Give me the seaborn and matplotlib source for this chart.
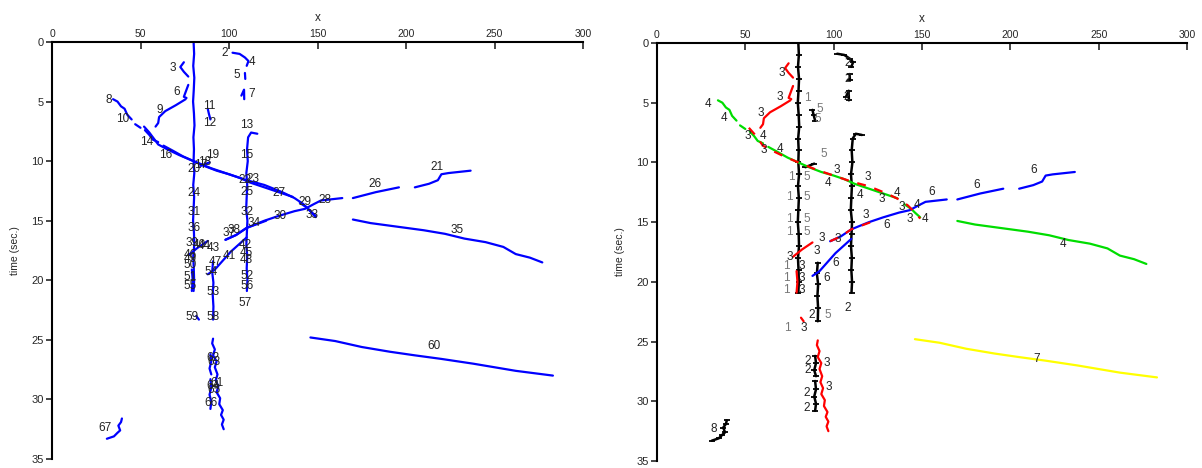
import matplotlib
matplotlib.use("Agg")
import matplotlib.pyplot as plt
import pandas as pd
import seaborn as sns

# ---------------- track data (x, time) ----------------
vert80 = [(80.0, 0.0), (80.3, 1.0), (79.8, 2.0), (80.4, 3.0), (80.1, 4.0), (79.7, 5.0),
          (80.2, 6.0), (80.5, 7.0), (79.9, 8.0), (80.2, 9.0), (80.0, 10.0), (80.4, 11.0),
          (79.8, 12.0), (80.3, 13.0), (80.0, 14.0), (79.7, 15.0), (80.2, 16.0), (80.4, 17.0),
          (79.8, 18.0), (80.1, 19.0), (80.3, 20.0), (80.0, 20.9)]
vert110 = [(116.0, 7.7), (112.5, 7.6), (110.8, 8.0), (110.2, 9.0), (110.6, 10.0), (109.8, 11.0),
           (110.3, 12.0), (110.0, 13.0), (109.7, 14.0), (110.4, 15.0), (110.1, 16.0),
           (109.8, 17.0), (110.3, 18.0), (110.0, 19.0), (110.4, 20.0), (110.1, 20.9)]
top2 = [(102.0, 0.9), (106.0, 1.0), (109.0, 1.3), (111.0, 1.6), (110.0, 2.0)]
short5 = [(109.0, 2.6), (109.2, 3.1)]
short7 = [(107.0, 4.5), (108.5, 4.0), (108.6, 4.8)]
trk3 = [(74.5, 1.7), (72.5, 2.1), (74.5, 2.5), (77.0, 2.9)]
trk6 = [(77.0, 3.6), (75.5, 4.2), (74.5, 4.6), (76.0, 4.7)]
trk9 = [(75.5, 4.8), (70.0, 5.3), (64.0, 5.8), (60.5, 6.3), (60.0, 6.8), (58.5, 7.1)]
trk11 = [(88.0, 5.6), (88.6, 6.0), (89.5, 6.5)]
dot19 = [(84.0, 10.4), (89.0, 10.1)]
diag_a = [(34.5, 4.8), (37.0, 5.0), (39.0, 5.4), (41.0, 5.6), (42.5, 6.1), (45.0, 6.5)]
diag_b = [(47.0, 6.9), (50.0, 7.2)]
diag_c = [(52.5, 7.4), (55.0, 7.8), (57.0, 8.2), (60.0, 8.4)]
diag_d = [(63.0, 8.7), (68.0, 9.1), (74.0, 9.6), (80.0, 10.0), (86.0, 10.4), (93.0, 10.8),
          (100.0, 11.1), (106.0, 11.4), (112.0, 11.8), (118.0, 12.1), (124.0, 12.4),
          (130.0, 12.7), (136.0, 13.0)]
diag_e = [(140.0, 13.5), (144.0, 13.9), (146.0, 14.2), (149.0, 14.6)]
diag_red = [(52.0, 7.1), (55.0, 7.6), (58.0, 8.2), (60.0, 8.6), (65.0, 9.0), (72.0, 9.5),
            (80.0, 10.0), (90.0, 10.6), (100.0, 11.1), (110.0, 11.6), (120.0, 12.0),
            (130.0, 12.6), (137.0, 13.1), (142.0, 13.6), (146.0, 14.2), (149.0, 14.7)]
rise_red = [(77.0, 17.9), (82.0, 17.3), (88.0, 16.7)]
rise1 = [(88.0, 19.5), (92.0, 19.1), (95.0, 18.6), (98.0, 18.1), (101.0, 17.6),
         (104.0, 17.2), (107.0, 16.8), (110.0, 16.4)]
rise2 = [(98.0, 16.6), (104.0, 16.2), (110.0, 15.6), (120.0, 15.0), (128.0, 14.6),
         (137.0, 14.2), (143.0, 14.0), (148.0, 13.6), (152.0, 13.3), (158.0, 13.2), (164.0, 13.1)]
rise2_red = [(98.0, 16.6), (104.0, 16.2), (110.0, 15.6), (121.0, 15.0)]
far1 = [(170.0, 13.1), (183.0, 12.6), (196.0, 12.2)]
far2 = [(205.0, 12.2), (213.0, 11.9), (218.0, 11.6), (220.0, 11.1), (224.0, 11.0), (236.5, 10.8)]
line35 = [(170.0, 14.9), (180.0, 15.2), (190.0, 15.4), (200.0, 15.6), (210.0, 15.8),
          (222.0, 16.1), (233.0, 16.5), (245.0, 16.8), (255.0, 17.2), (262.0, 17.8),
          (270.0, 18.1), (277.0, 18.5)]
line60 = [(146.0, 24.8), (160.0, 25.1), (175.0, 25.6), (191.0, 26.0), (205.0, 26.3),
          (220.0, 26.6), (238.0, 27.0), (250.0, 27.3), (262.0, 27.6), (283.0, 28.0)]
vert91 = [(91.0, 18.4), (90.5, 19.3), (91.2, 20.2), (90.8, 21.2), (91.2, 22.2), (91.0, 23.3)]
red80 = [(79.0, 19.1), (79.5, 20.0), (79.0, 20.9)]
red_small = [(81.5, 23.0), (83.0, 23.3)]
wiggle = [(91.0, 24.9), (90.5, 25.3), (92.0, 25.8), (91.0, 26.3), (93.0, 26.8), (92.0, 27.3),
          (93.5, 27.9), (92.5, 28.4), (94.0, 28.9), (93.0, 29.4), (95.0, 29.9), (94.5, 30.4),
          (96.5, 30.9), (95.5, 31.3), (97.0, 31.7), (96.0, 32.1), (97.0, 32.5)]
blk_a = [(89.5, 26.2), (90.0, 26.8), (89.0, 27.4), (90.0, 27.9)]
blk_b = [(89.5, 28.3), (90.0, 29.0), (89.0, 29.6), (90.0, 30.2), (89.5, 30.8)]
trk67 = [(31.0, 33.3), (35.0, 33.1), (37.0, 32.8), (38.5, 32.6), (37.5, 32.2), (39.0, 31.9), (39.5, 31.6)]

# right-panel cluster of each track
track_names = ["vert80", "vert110", "top2", "short5", "short7", "trk3", "trk6", "trk9", "trk11",
               "dot19", "diag_a", "diag_b", "diag_c", "diag_d", "diag_e", "diag_red", "rise_red",
               "rise1", "rise2", "rise2_red", "far1", "far2", "line35", "line60", "vert91",
               "red80", "red_small", "wiggle", "blk_a", "blk_b", "trk67"]
track_cluster = ["black", "black", "black", "black", "black", "red", "red", "red", "black",
                 "black", "green", "green", "green", "green", "green", "red_dash", "red",
                 "blue", "blue", "red_dash", "blue", "blue", "green", "yellow", "black",
                 "red", "red", "red", "black", "black", "black"]

# ---------------- labels ----------------
left_lab_text = ["2", "4", "3", "5", "6", "7", "8", "9", "11", "10", "12", "13", "14", "16", "19",
                 "15", "17", "18", "20", "22", "23", "25", "24", "27", "29", "28", "31", "32", "30",
                 "33", "34", "36", "37", "38", "39", "40", "44", "43", "42", "45", "46", "41", "47",
                 "48", "49", "50", "54", "51", "52", "55", "53", "56", "57", "59", "58", "62", "63",
                 "61", "64", "65", "66", "67", "60", "35", "26", "21"]
left_lab_x = [97.7, 113, 68.5, 104.6, 70.5, 113, 31.8, 61, 89, 40, 89, 110, 53.5, 64, 91,
              110, 84, 86, 80, 109, 113.5, 110, 80, 128, 143, 154, 80, 110, 129,
              147, 114, 80, 100, 103, 79, 83, 86, 91, 109, 110, 78, 100, 92,
              110, 78, 78, 90, 78, 110, 78, 91, 110, 109, 79, 91, 91, 91.5,
              93, 91, 91.5, 90, 30, 216, 229, 182.5, 217.5]
left_lab_t = [0.95, 1.7, 2.2, 2.8, 4.2, 4.4, 4.9, 5.7, 5.4, 6.5, 6.8, 7.0, 8.4, 9.5, 9.5,
              9.5, 10.3, 10.1, 10.7, 11.6, 11.5, 12.6, 12.7, 12.7, 13.4, 13.3, 14.3, 14.3, 14.6,
              14.5, 15.2, 15.6, 16.0, 15.8, 16.9, 17.0, 17.1, 17.3, 17.0, 17.7, 17.9, 18.0, 18.5,
              18.3, 18.2, 18.7, 19.3, 19.7, 19.6, 20.5, 21.0, 20.5, 21.9, 23.1, 23.1, 26.5, 26.9,
              28.6, 28.9, 29.2, 30.3, 32.4, 25.5, 15.8, 11.9, 10.5]

right_lab_text = ["3", "3", "1", "2", "2", "2", "4", "4", "3", "5", "5", "3", "4", "3", "4", "5",
                  "3", "1", "5", "4", "3", "4", "3", "4", "1", "5", "1", "5", "3", "6", "1", "5",
                  "3", "4", "3", "4", "6", "6", "6", "3", "3", "3", "3", "6", "6", "1", "3", "1",
                  "3", "1", "3", "2", "5", "2", "1", "3", "2", "2", "3", "3", "2", "2", "8", "4", "7"]
right_lab_x = [70.7, 69.6, 84.9, 108, 108, 107.5, 29, 38, 59, 92, 91, 51.5, 60, 60.5, 69.6, 94.5,
               102, 76, 85, 97, 119.4, 115, 127, 136, 75, 85, 75, 85, 118, 130, 75, 85,
               138.6, 147, 143, 151.7, 155.6, 181, 213, 93.5, 102.5, 75, 90.5, 101, 96, 73.5, 82, 73.5,
               82, 73.5, 82, 87.7, 96.8, 108, 74, 83, 85.5, 85.5, 96, 97, 85, 85, 32, 230, 215]
right_lab_t = [2.5, 4.5, 4.6, 1.7, 3.0, 4.5, 5.1, 6.3, 5.9, 5.5, 6.4, 7.8, 7.8, 9.0, 8.9, 9.3,
               10.6, 11.2, 11.2, 11.7, 11.2, 12.7, 13.1, 12.6, 12.9, 12.9, 14.7, 14.7, 14.4, 15.2, 15.8, 15.8,
               13.7, 13.6, 14.7, 14.7, 12.5, 11.9, 10.6, 16.3, 16.4, 17.9, 17.4, 18.4, 19.7, 18.7, 18.7, 19.7,
               19.7, 20.7, 20.7, 22.8, 22.8, 22.2, 23.9, 23.9, 26.6, 27.4, 26.8, 28.8, 29.3, 30.6, 32.3, 16.8, 26.5]

x_ticks = [0, 50, 100, 150, 200, 250, 300]
t_ticks = [0, 5, 10, 15, 20, 25, 30, 35]

# ---------------- build long table ----------------
rows = []
g = globals()
for name, cl in zip(track_names, track_cluster):
    for i, (xv, tv) in enumerate(g[name]):
        rows.append({"track": name, "cluster": cl, "order": i, "x": xv, "t": tv})
df = pd.DataFrame(rows)

sns.set_style("white")
plt.rcParams["font.family"] = ["Liberation Sans", "DejaVu Sans"]

fig = plt.figure(figsize=(12.02, 4.68), dpi=100)
axL = fig.add_axes([52 / 1202, 1 - 459 / 468, (583 - 52) / 1202, (459 - 42) / 468])
axR = fig.add_axes([657 / 1202, 1 - 461 / 468, (1187 - 657) / 1202, (461 - 43) / 468])

# left panel: every track blue
sns.lineplot(data=df, x="x", y="t", units="track", estimator=None, sort=False,
             color="#0000ff", lw=1.6, ax=axL, legend=False)
for s, xv, tv in zip(left_lab_text, left_lab_x, left_lab_t):
    axL.text(xv, tv, s, fontsize=8.5, color="#222222", ha="center", va="center")

# right panel: coloured by cluster
palette = {"black": "#000000", "red": "#ff0000", "green": "#00dd00",
           "blue": "#0000ff", "yellow": "#ffff00"}
for cl, col in palette.items():
    sub = df[df["cluster"] == cl]
    if cl == "black":
        sns.lineplot(data=sub, x="x", y="t", units="track", estimator=None, sort=False,
                     color=col, lw=1.8, marker="_", markersize=5, mew=1.3,
                     mec="black", mfc="black", ax=axR, legend=False)
    else:
        sns.lineplot(data=sub, x="x", y="t", units="track", estimator=None, sort=False,
                     color=col, lw=1.6, ax=axR, legend=False)
sub = df[df["cluster"] == "red_dash"]
sns.lineplot(data=sub, x="x", y="t", units="track", estimator=None, sort=False,
             color="#ff0000", lw=1.6, linestyle=(0, (4, 4)), ax=axR, legend=False)
for s, xv, tv in zip(right_lab_text, right_lab_x, right_lab_t):
    col = "#777777" if s in ("1", "5") else "#222222"
    axR.text(xv, tv, s, fontsize=8.5, color=col, ha="center", va="center")

for ax in (axL, axR):
    ax.set_xlim(0, 300)
    ax.set_ylim(35, 0)
    ax.xaxis.tick_top()
    ax.xaxis.set_label_position("top")
    ax.set_xticks(x_ticks)
    ax.set_yticks(t_ticks)
    ax.tick_params(axis="x", direction="in", length=5, width=1.2, labelsize=7.5, pad=2,
                   top=True, bottom=False)
    ax.tick_params(axis="y", direction="out", length=4, width=1.2, labelsize=8, pad=2,
                   left=True)
    for s in ("right", "bottom"):
        ax.spines[s].set_visible(False)
    for s in ("top", "left"):
        ax.spines[s].set_linewidth(1.5)
        ax.spines[s].set_color("black")
    ax.set_xlabel("x", fontsize=8.5, labelpad=6)
    ax.set_ylabel("time (sec.)", fontsize=7.5, labelpad=8)
    ax.set_facecolor("white")

fig.savefig("out.png", dpi=100, facecolor="white")
